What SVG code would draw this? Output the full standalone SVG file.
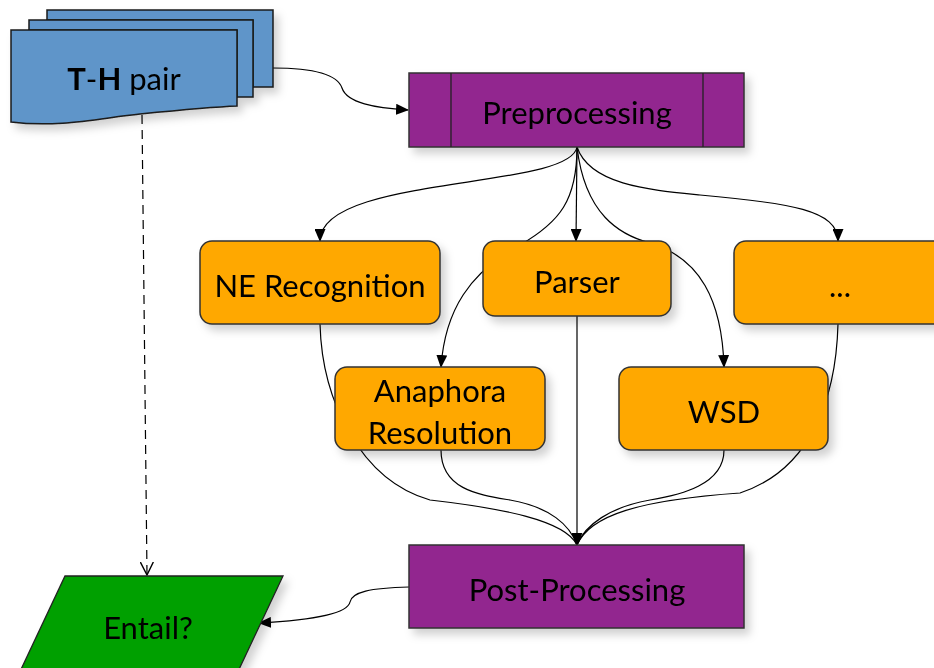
<svg xmlns="http://www.w3.org/2000/svg" width="934" height="668" viewBox="0 0 934 668">
<defs>
<filter id="sh" x="-10%" y="-10%" width="130%" height="140%">
<feDropShadow dx="5" dy="6" stdDeviation="4" flood-color="#000" flood-opacity="0.18"/>
</filter>
<marker id="ah" markerWidth="13" markerHeight="11" refX="12" refY="5.5" orient="auto" markerUnits="userSpaceOnUse">
<path d="M0,0 L13,5.5 L0,11 Z" fill="#000"/>
</marker>
<marker id="ao" markerWidth="14" markerHeight="14" refX="13" refY="7" orient="auto" markerUnits="userSpaceOnUse">
<path d="M0,0.5 L13,7 L0,13.5" fill="none" stroke="#000" stroke-width="1.4"/>
</marker>
</defs>
<style>
.c{fill:none;stroke:#000;stroke-width:1.2}
.doc{fill:#5E95C9;stroke:#1a1a1a;stroke-width:1.5}
.pur{fill:#92278F;stroke:#333;stroke-width:1.5}
.org{fill:#FFA800;stroke:#333;stroke-width:1.5}
.grn{fill:#00A000;stroke:#222;stroke-width:1.3}
.t{font-family:Lato,"Open Sans",sans-serif;font-size:31px;fill:#000;text-anchor:middle}
</style>
<rect width="934" height="668" fill="#fff"/>
<g id="connectors">
<path class="c" d="M273,68 C 320,68 338,76 342,88 C 347,103 375,108 408,110" marker-end="url(#ah)"/>
<path class="c" d="M142,115 L147,575" stroke-dasharray="9,6" marker-end="url(#ao)"/>
<path class="c" d="M577,147 C 570,190 320,175 320,241" marker-end="url(#ah)"/>
<path class="c" d="M577,147 C 577,200 560,222 520,245 C 470,272 445,310 441,367" marker-end="url(#ah)"/>
<path class="c" d="M577,147 L576,241" marker-end="url(#ah)"/>
<path class="c" d="M577,147 C 585,215 620,235 650,243 C 700,258 722,300 724,367" marker-end="url(#ah)"/>
<path class="c" d="M577,147 C 590,185 650,190 700,195 C 790,203 838,210 838,241" marker-end="url(#ah)"/>
<path class="c" d="M320,324 C 322,400 360,480 430,500 C 500,508 565,520 577,545"/>
<path class="c" d="M441,450 C 441,490 480,495 510,500 C 550,507 570,525 577,545"/>
<path class="c" d="M577,316 L577,545" marker-end="url(#ah)"/>
<path class="c" d="M724,450 C 724,485 680,495 650,500 C 610,507 585,525 577,545"/>
<path class="c" d="M838,324 C 836,400 810,470 740,493 C 640,500 590,515 577,545"/>
<path class="c" d="M409,587 C 370,588 352,592 350,602 C 348,612 320,620 259,623" marker-end="url(#ah)"/>
</g>
<g id="th-pair" filter="url(#sh)">
<path class="doc" d="M47,10 H273 V87 H253 V20 H47 Z"/>
<path class="doc" d="M29,20 H253 V97 H237 V30 H29 Z"/>
<path class="doc" d="M11,30 H237 V106 C 210,107 180,110 140,114 C 100,118 60,128 11,122 Z"/>
<text class="t" x="124" y="90"><tspan font-weight="bold">T</tspan>-<tspan font-weight="bold">H</tspan> pair</text>
</g>
<g id="preprocessing" filter="url(#sh)">
<rect class="pur" x="409" y="73" width="335" height="74"/>
<path d="M451,73 V147 M703,73 V147" stroke="#222" stroke-width="1.3"/>
<text class="t" x="577" y="124">Preprocessing</text>
</g>
<g id="ne-recognition" filter="url(#sh)">
<rect class="org" x="200" y="241" width="240" height="83" rx="12"/>
<text class="t" x="320" y="297">NE Recognition</text>
</g>
<g id="parser" filter="url(#sh)">
<rect class="org" x="483" y="241" width="188" height="75" rx="12"/>
<text class="t" x="577" y="293">Parser</text>
</g>
<g id="more" filter="url(#sh)">
<rect class="org" x="734" y="241" width="220" height="83" rx="12"/>
<text class="t" x="840" y="297">...</text>
</g>
<g id="anaphora" filter="url(#sh)">
<rect class="org" x="335" y="367" width="210" height="83" rx="12"/>
<text class="t" x="440" y="402">Anaphora</text>
<text class="t" x="440" y="444">Resolution</text>
</g>
<g id="wsd" filter="url(#sh)">
<rect class="org" x="619" y="367" width="209" height="83" rx="12"/>
<text class="t" x="724" y="423">WSD</text>
</g>
<g id="post-processing" filter="url(#sh)">
<rect class="pur" x="409" y="545" width="335" height="83"/>
<text class="t" x="577" y="601">Post-Processing</text>
</g>
<g id="entail" filter="url(#sh)">
<path class="grn" d="M65,576 H283 L234,680 H16 Z"/>
<text class="t" x="148" y="639">Entail?</text>
</g>
</svg>
